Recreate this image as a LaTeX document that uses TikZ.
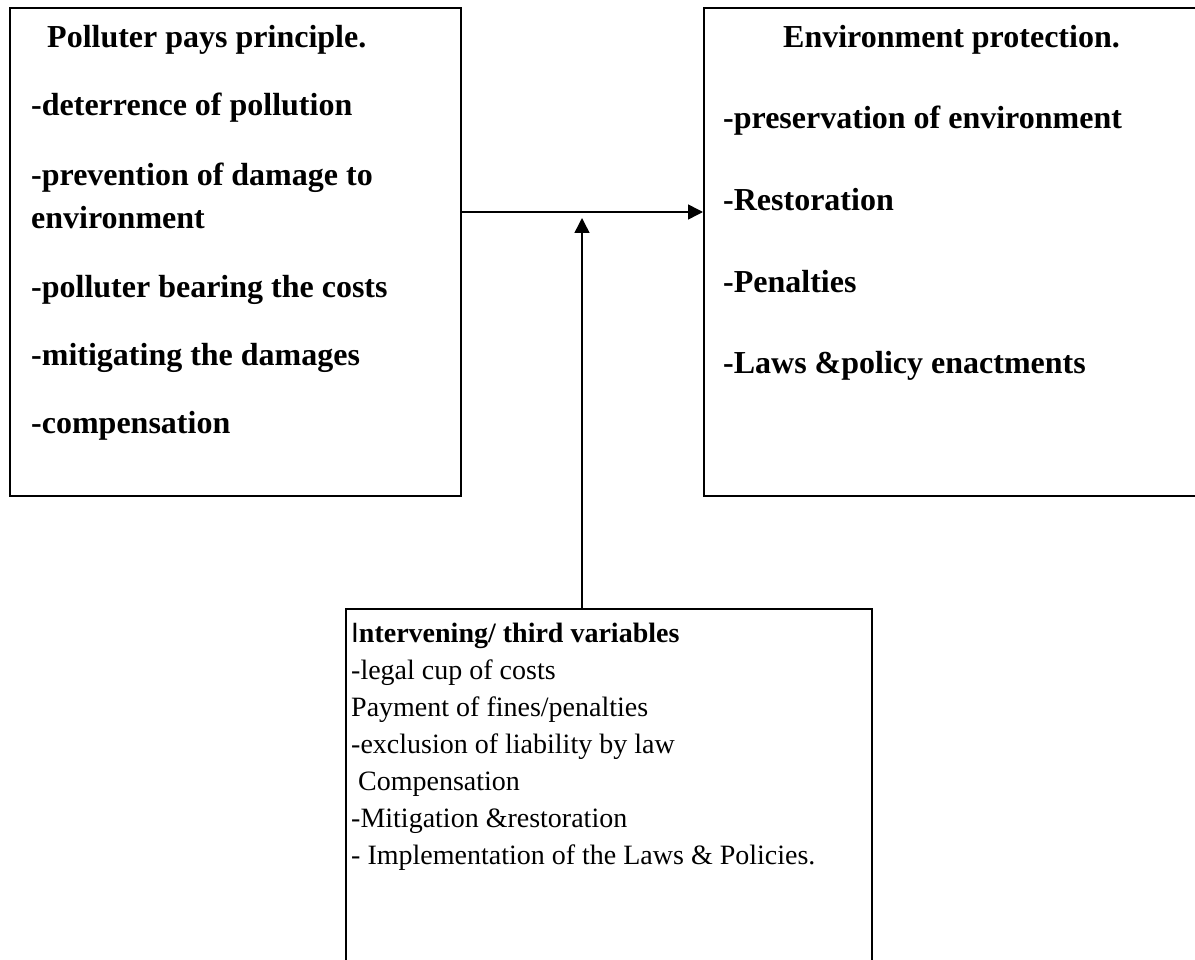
\documentclass[tikz,border=0pt]{standalone}
\usepackage{fontspec}
\setmainfont{Liberation Serif}
\newfontfamily\sansI{Liberation Sans}
\usepackage{tikz}
\usetikzlibrary{arrows.meta, positioning}
\tikzset{
    bigbox/.style={rectangle, draw=black, line width=1.8pt, anchor=north west, inner sep=0pt},
    boldlist/.style={anchor=north west, align=left, inner sep=0pt, font=\fontsize{32}{43}\selectfont\bfseries},
    plainlist/.style={anchor=north west, align=left, inner sep=0pt, font=\fontsize{28}{37}\selectfont},
    arrow/.style={line width=1.5pt, -{Triangle[length=15pt, width=15pt]}}
}

\begin{document}
\begin{tikzpicture}[x=1pt, y=-1pt]
    \useasboundingbox (0,0) rectangle (1195,960);

    \node (ppbox) [bigbox, minimum width=451pt, minimum height=488pt] at (9,7) {};
    \node (epbox) [bigbox, minimum width=496pt, minimum height=488pt] at (703,7) {};
    \node (ivbox) [bigbox, minimum width=526pt, minimum height=360pt] at (345,608) {};

    \node (pptext) [boldlist] at ([xshift=22pt, yshift=-10pt]ppbox.north west) {\rule{0pt}{30pt}\hspace*{16pt}Polluter pays principle.\\[25pt]-deterrence of pollution\\[27pt]-prevention of damage to\\environment\\[26pt]-polluter bearing the costs\\[25pt]-mitigating the damages\\[25pt]-compensation};
    \node (eptext) [boldlist] at ([xshift=20pt, yshift=-10pt]epbox.north west) {\rule{0pt}{30pt}\hspace*{60pt}Environment protection.\\[38pt]-preservation of environment\\[39pt]-Restoration\\[39pt]-Penalties\\[38pt]-Laws \&policy enactments};
    \node (ivtext) [plainlist] at ([xshift=6pt, yshift=-6pt]ivbox.north west) {\rule{0pt}{28pt}\textbf{{\sansI\mdseries I}ntervening/ third variables}\\-legal cup of costs\\Payment of fines/penalties\\-exclusion of liability by law\\\hspace*{7pt}Compensation\\-Mitigation \&restoration\\- Implementation of the Laws \& Policies.};

    \coordinate (join) at (582,212);
    \coordinate (tip) at (582,218);
    \draw [arrow] (ppbox.east |- join) -- (epbox.west |- join);
    \draw [arrow] (ivbox.north -| tip) -- (tip);
\end{tikzpicture}
\end{document}
